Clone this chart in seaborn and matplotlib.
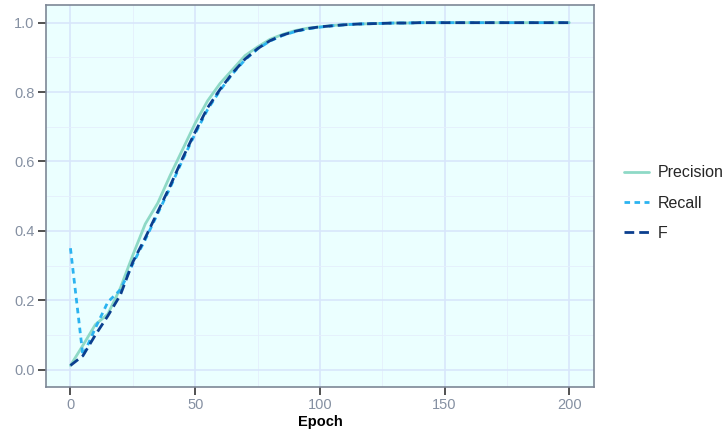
import numpy as np
import pandas as pd
import matplotlib
matplotlib.use("Agg")
import matplotlib.pyplot as plt
import seaborn as sns

# values, one point every 5 epochs
epochs = list(range(0, 205, 5))
precision = [0.012, 0.07, 0.13, 0.16, 0.235, 0.33, 0.42, 0.48, 0.56, 0.635,
             0.71, 0.775, 0.825, 0.865, 0.905, 0.93, 0.952, 0.966, 0.977, 0.984,
             0.988, 0.992, 0.994, 0.996, 0.997, 0.998, 0.999, 0.999, 1.0, 1.0,
             1.0, 1.0, 1.0, 1.0, 1.0, 1.0, 1.0, 1.0, 1.0, 1.0, 1.0]
recall = [0.35, 0.04, 0.12, 0.195, 0.23, 0.305, 0.375, 0.45, 0.525, 0.605,
          0.68, 0.75, 0.805, 0.853, 0.893, 0.924, 0.947, 0.963, 0.974, 0.982,
          0.987, 0.991, 0.994, 0.996, 0.997, 0.998, 0.999, 0.999, 1.0, 1.0,
          1.0, 1.0, 1.0, 1.0, 1.0, 1.0, 1.0, 1.0, 1.0, 1.0, 1.0]
fscore = [0.012, 0.04, 0.10, 0.155, 0.215, 0.31, 0.38, 0.455, 0.53, 0.61,
          0.685, 0.755, 0.808, 0.855, 0.895, 0.925, 0.948, 0.964, 0.975, 0.983,
          0.988, 0.991, 0.994, 0.996, 0.997, 0.998, 0.999, 0.999, 1.0, 1.0,
          1.0, 1.0, 1.0, 1.0, 1.0, 1.0, 1.0, 1.0, 1.0, 1.0, 1.0]
metrics = ["Precision", "Recall", "F"]

df = pd.DataFrame({
    "Epoch": epochs * 3,
    "value": precision + recall + fscore,
    "metric": [m for m in metrics for _ in epochs],
})

sns.set_theme(style="whitegrid")
plt.rcParams["font.family"] = ["Liberation Sans", "DejaVu Sans"]

fig = plt.figure(figsize=(7.28, 4.36), dpi=100)
ax = fig.add_axes([0.0625, 0.1124, 0.7538, 0.8754])
ax.set_facecolor("#EBFFFF")

palette = {"Precision": "#8ED9C6", "Recall": "#2BB3F0", "F": "#0B3F8E"}
dashes = {"Precision": "", "Recall": (2.0, 1.6), "F": (3.5, 1.8)}
sns.lineplot(data=df, x="Epoch", y="value", hue="metric", style="metric",
             hue_order=metrics, style_order=metrics, palette=palette,
             dashes=dashes, linewidth=2.0, ax=ax)

ax.set_xlim(-10, 210)
ax.set_ylim(-0.05, 1.05)
ax.set_xticks([0, 50, 100, 150, 200])
ax.set_xticks([25, 75, 125, 175], minor=True)
ax.set_yticks([0.0, 0.2, 0.4, 0.6, 0.8, 1.0])
ax.set_yticks([0.1, 0.3, 0.5, 0.7, 0.9], minor=True)
ax.set_yticklabels(["0.0", "0.2", "0.4", "0.6", "0.8", "1.0"])
ax.grid(which="major", color="#D8E6FB", linewidth=1.2)
ax.grid(which="minor", color="#E4EFFC", linewidth=0.6)
for s in ax.spines.values():
    s.set_color("#7D8796")
    s.set_linewidth(1.2)
ax.tick_params(which="major", bottom=True, left=True, direction="out",
               length=6, width=1.2, color="#333333", labelcolor="#8590A2",
               labelsize=10.5, pad=2)
ax.tick_params(which="minor", bottom=False, left=False)
# seaborn's whitegrid style hides the tick marks, switch them back on
for t in ax.xaxis.get_major_ticks() + ax.yaxis.get_major_ticks():
    t.tick1line.set_visible(True)
    t.tick1line.set_markeredgecolor("#333333")
    t.tick1line.set_markersize(6)
    t.tick1line.set_markeredgewidth(1.2)
ax.set_xlabel("Epoch", fontsize=10.5, fontweight="bold", color="black", labelpad=2)
ax.set_ylabel("")

ax.legend(title=None, frameon=False, loc="center left",
          bbox_to_anchor=(1.054, 0.482), borderaxespad=0, borderpad=0,
          fontsize=11.5, handlelength=1.6, handletextpad=0.5, labelspacing=0.95)

fig.savefig("out.png", dpi=100)
